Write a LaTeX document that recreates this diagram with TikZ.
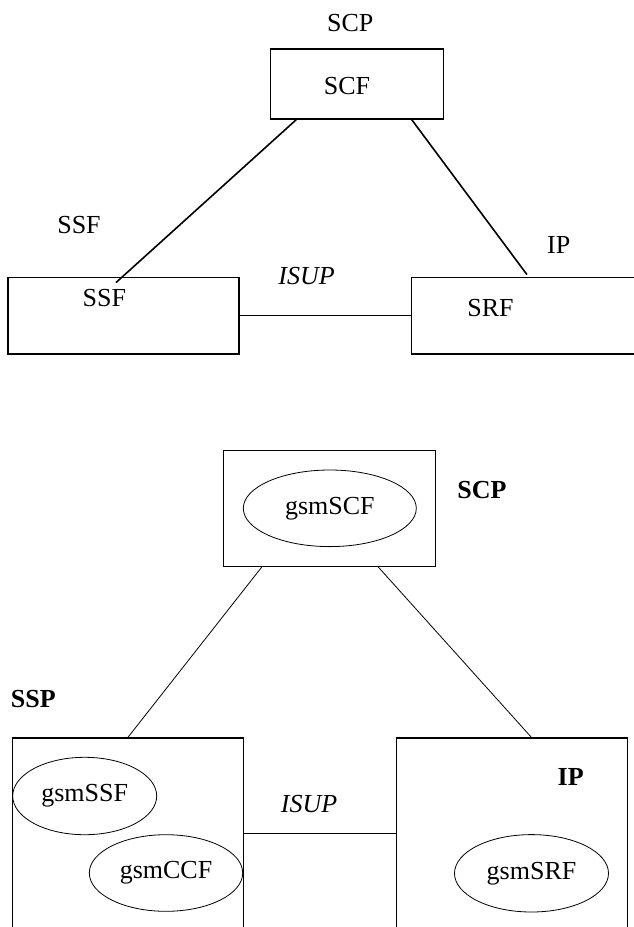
\documentclass[tikz,border=0pt]{standalone}
\usepackage{fontspec}
\setmainfont{Liberation Serif}
\usetikzlibrary{shapes.geometric,calc,positioning}

\tikzset{
  entity/.style={draw, line width=1.5pt, inner sep=0pt},
  func/.style={draw, ellipse, line width=0.8pt, inner sep=0pt,
    font=\fontsize{26}{30}\selectfont},
  lbl/.style={inner sep=0pt, font=\fontsize{26}{30}\selectfont},
  link/.style={line width=1.6pt},
  thinlink/.style={line width=0.8pt}
}

\begin{document}
\begin{tikzpicture}[x=1pt, y=-1pt]
  \clip (0,0) rectangle (634,927);

  % upper diagram: physical entities as plain boxes
  \node[entity, minimum width=173pt, minimum height=70.3pt] (scfbox) at (357.2,83.9) {};
  \node[entity, minimum width=231pt, minimum height=76.7pt] (ssfbox) at (123.5,315.7) {};
  \node[entity, minimum width=231pt, minimum height=76.7pt] (srfbox) at (526.8,315.7) {};

  \node[lbl] (scptop) at (350.3,23.3) {SCP};
  \node[lbl] (scftext) at (347,86) {SCF};
  \node[lbl] (ssftop) at (79,225) {SSF};
  \node[lbl] (ssftext) at (104.3,298.5) {SSF};
  \node[lbl] (iptop) at (558.7,245) {IP};
  \node[lbl] (srftext) at (490.5,308.5) {SRF};
  \node[lbl, font=\fontsize{26}{30}\selectfont\itshape] (isuptop) at (306.5,276) {ISUP};

  \draw[link] ($(scfbox.south west)!0.15!(scfbox.south east)$) -- ($(ssfbox.north west)+(108.7,6)$);
  \draw[link] ($(scfbox.south west)!0.813!(scfbox.south east)$) -- ($(srfbox.north west)+(116.4,-2)$);
  \draw[line width=1.3pt] ($(ssfbox.east)+(-2,0)$) -- (srfbox.west);

  % lower diagram: gsm functions inside the entities
  \node[entity, minimum width=211.6pt, minimum height=115.6pt] (scpbox) at (329.5,508.5) {};
  \node[entity, minimum width=230.6pt, minimum height=212pt] (sspbox) at (128,844) {};
  \node[entity, minimum width=231.4pt, minimum height=212pt] (ipbox) at (512,844) {};

  \node[func, minimum width=173pt, minimum height=76.6pt] (gsmscf) at (329.8,508.3) {gsmSCF};
  \node[func, minimum width=144pt, minimum height=77.4pt] (gsmssf) at (84.7,796) {gsmSSF};
  \node[func, minimum width=153.4pt, minimum height=76.6pt] (gsmccf) at (166,873) {gsmCCF};
  \node[func, minimum width=154pt, minimum height=77.4pt] (gsmsrf) at (531.5,873.3) {gsmSRF};

  \node[lbl, font=\fontsize{26}{30}\selectfont\bfseries] (scplbl) at (482,490) {SCP};
  \node[lbl, font=\fontsize{26}{30}\selectfont\bfseries] (ssplbl) at (33.3,699) {SSP};
  \node[lbl, font=\fontsize{26}{30}\selectfont\bfseries] (iplbl) at (570.7,777) {IP};
  \node[lbl, font=\fontsize{26}{30}\selectfont\itshape] (isupbot) at (309,804.5) {ISUP};

  \draw[thinlink] ($(scpbox.south west)!0.182!(scpbox.south east)$) -- (sspbox.north);
  \draw[thinlink] ($(scpbox.south west)!0.729!(scpbox.south east)$) -- ($(ipbox.north west)!0.583!(ipbox.north east)$);
  \draw[thinlink] ($(sspbox.north east)+(0,96)$) -- ($(ipbox.north west)+(0,96)$);
\end{tikzpicture}
\end{document}
